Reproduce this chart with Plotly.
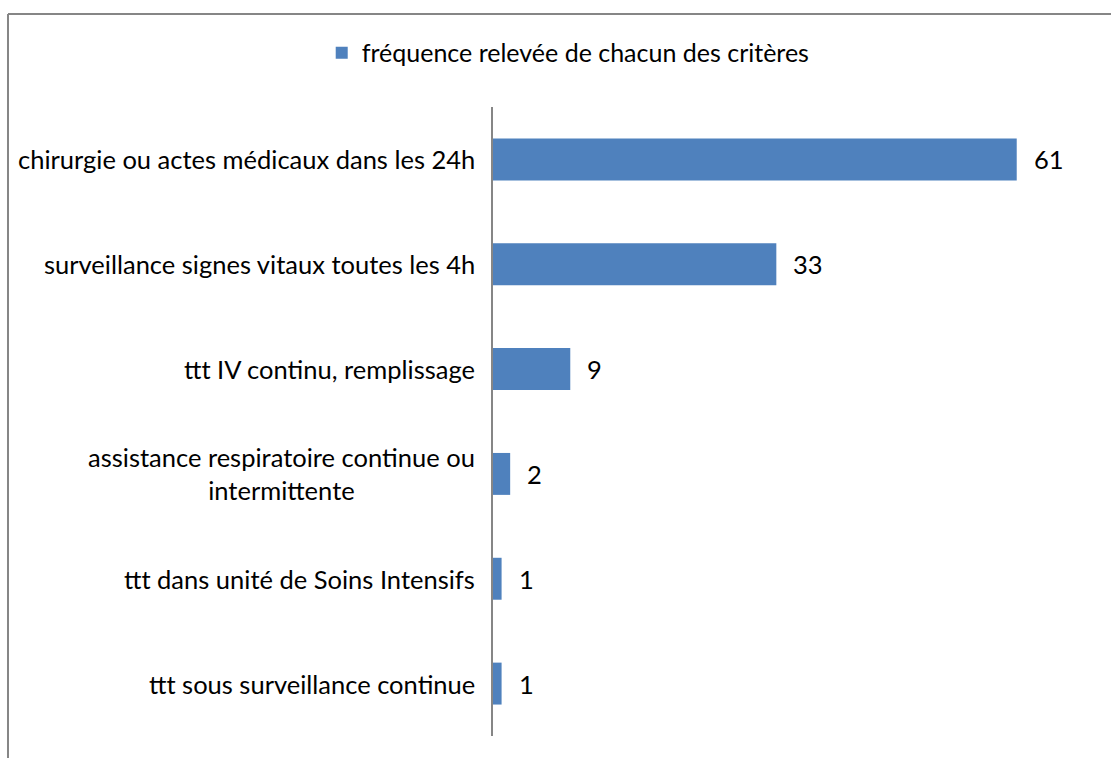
import plotly.graph_objects as go

categories = [
    "chirurgie ou actes médicaux dans les 24h",
    "surveillance signes vitaux toutes les 4h",
    "ttt IV continu, remplissage",
    "assistance respiratoire continue ou<br>intermittente",
    "ttt dans unité de Soins Intensifs",
    "ttt sous surveillance continue",
]
values = [61, 33, 9, 2, 1, 1]
series_name = "fréquence relevée de chacun des critères"

FONT = "Lato"
BAR = "#4F81BD"
FS = 25.5

fig = go.Figure()
fig.add_trace(go.Bar(
    y=categories, x=values, orientation="h", name=series_name,
    marker=dict(color=BAR, line=dict(width=0)), width=0.4,
    showlegend=True,
))

annotations = []
for c, v in zip(categories, values):
    annotations.append(dict(x=v, y=c, xref="x", yref="y", text=str(v), showarrow=False,
                            xanchor="left", xshift=15, font=dict(family=FONT, size=FS, color="#000")))
    annotations.append(dict(x=0, y=c, xref="x", yref="y", text=c, showarrow=False,
                            xanchor="right", xshift=-16, align="center",
                            font=dict(family=FONT, size=FS, color="#000")))

fig.update_layout(
    width=1111, height=758,
    margin=dict(l=493, r=17, t=107, b=22),
    paper_bgcolor="white", plot_bgcolor="white",
    font=dict(family=FONT, size=FS, color="#000"),
    bargap=0.6,
    xaxis=dict(range=[0, 70], visible=False, fixedrange=True),
    yaxis=dict(autorange="reversed", showticklabels=False, showline=True, linecolor="#868686",
               linewidth=2, ticks="", showgrid=False, zeroline=False, fixedrange=True),
    legend=dict(orientation="h", x=-0.285, xanchor="left", y=1.086, yanchor="middle",
                font=dict(family=FONT, size=25), itemwidth=30),
    annotations=annotations,
    shapes=[
        dict(type="line", xref="paper", yref="paper", x0=-0.807, x1=1.05, y0=1.148, y1=1.148,
             line=dict(color="#868686", width=2)),
        dict(type="line", xref="paper", yref="paper", x0=-0.807, x1=-0.807, y0=1.148, y1=-0.1,
             line=dict(color="#868686", width=2)),
    ],
)

fig.write_html("out.html", config={"displayModeBar": False},
               post_script="document.body.style.margin='0';")
